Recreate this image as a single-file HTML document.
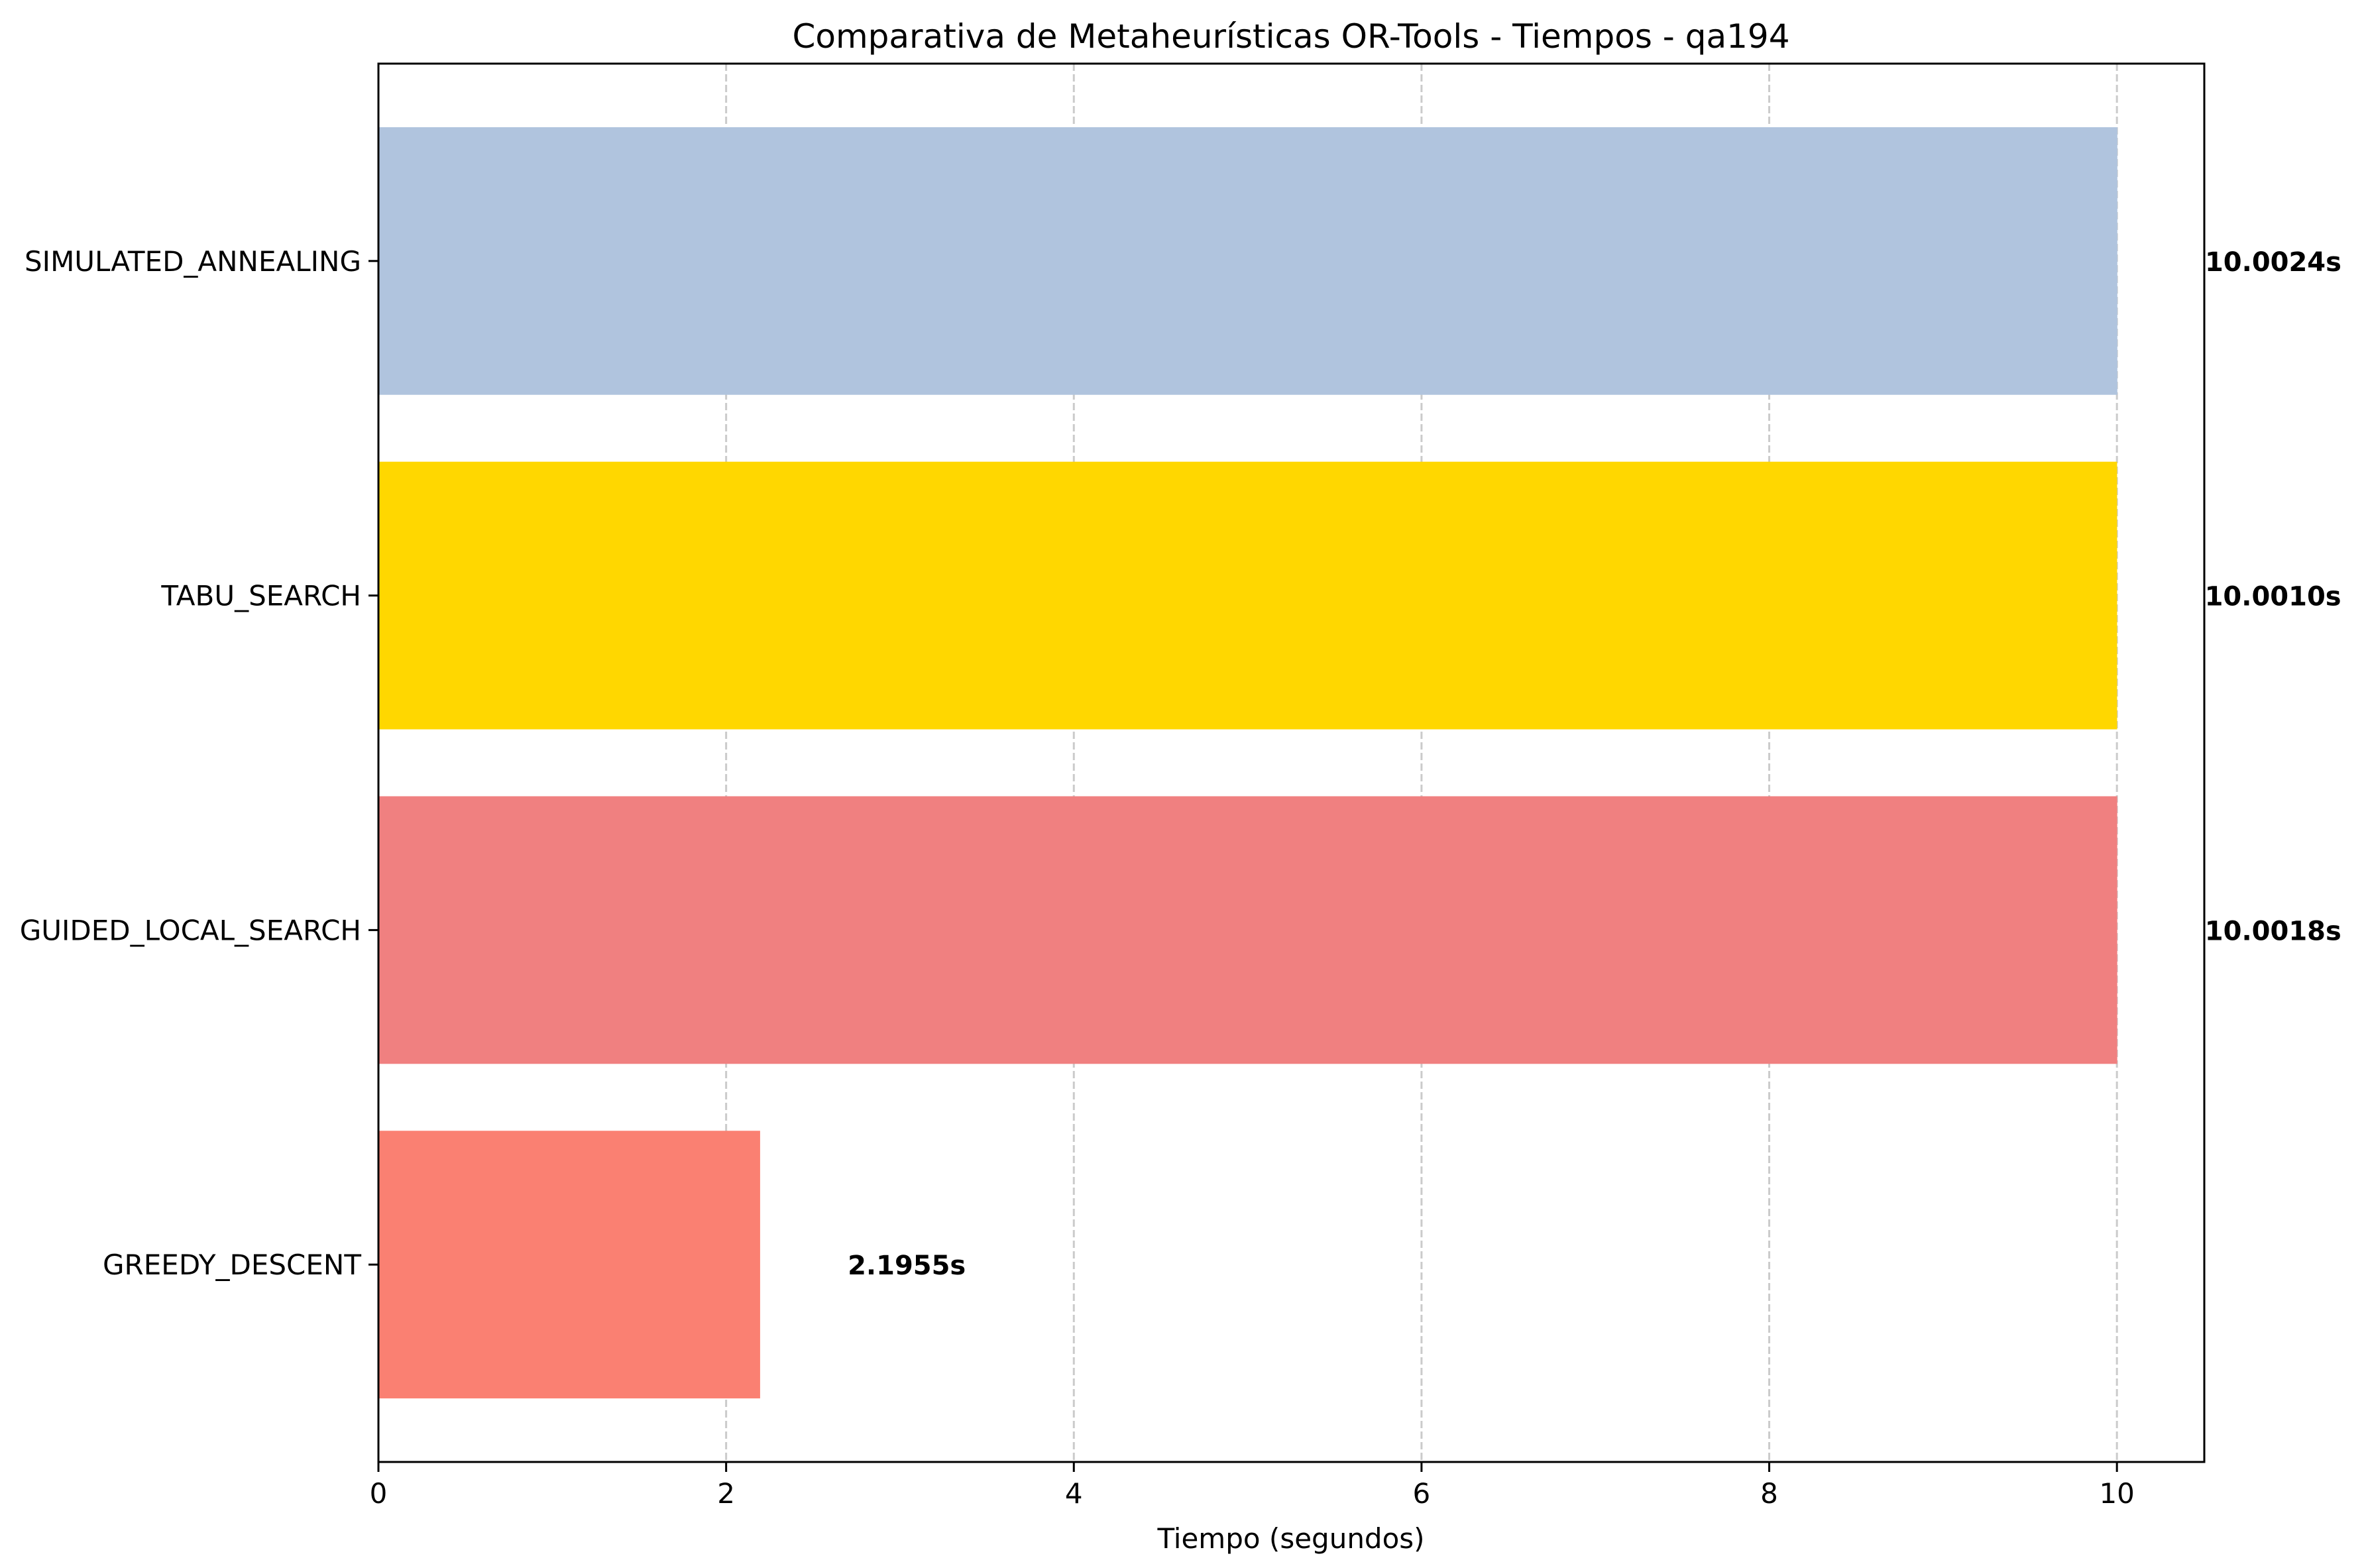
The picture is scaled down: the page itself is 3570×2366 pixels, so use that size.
<!DOCTYPE html>
<html><head><meta charset="utf-8"><style>html,body{margin:0;padding:0;background:#fff}svg{display:block}</style></head>
<body>
<svg id="chart" width="3570" height="2366" xmlns="http://www.w3.org/2000/svg" font-family="'DejaVu Sans','Liberation Sans',sans-serif">
<text x="1948" y="72" font-size="50" text-anchor="middle">Comparativa de Metaheurísticas OR-Tools - Tiempos - qa194</text>
<text x="1948" y="2336" font-size="42" text-anchor="middle">Tiempo (segundos)</text>
<g id="grid"></g><g id="bars"></g><g id="labels"></g><g id="axes"></g>
</svg>
<script>
const categories = ["GREEDY_DESCENT","GUIDED_LOCAL_SEARCH","TABU_SEARCH","SIMULATED_ANNEALING"];
const values = [2.1955, 10.0018, 10.0010, 10.0024];
const valueLabels = ["2.1955s","10.0018s","10.0010s","10.0024s"];
const colors = ["#fa8072","#f08080","#ffd700","#b0c4de"];
const xTicks = [0,2,4,6,8,10];

const L=571,R=3326,T=96,B=2206;
const xmax=Math.max(...values)*1.05;
const ymin=-0.59,ymax=categories.length-1+0.59;
const xs=v=>L+(v/xmax)*(R-L);
const ys=v=>B-(v-ymin)/(ymax-ymin)*(B-T);
const NS="http://www.w3.org/2000/svg";
function mk(tag,attrs,parent){const e=document.createElementNS(NS,tag);for(const k in attrs)e.setAttribute(k,attrs[k]);document.getElementById(parent).appendChild(e);return e;}

xTicks.forEach(t=>{
  const g=mk("line",{x1:xs(t),x2:xs(t),y1:T,y2:B,stroke:"#cbcbcb","stroke-width":3,"stroke-dasharray":"11,5"},"grid");
  
  
  const tk=mk("line",{x1:xs(t),x2:xs(t),y1:B,y2:B+15,stroke:"#000","stroke-width":3},"axes");
  
  
  const tl=mk("text",{x:xs(t),y:B+62,"font-size":42,"text-anchor":"middle"},"axes");
  tl.textContent=t;
  
  
});

categories.forEach((c,i)=>{
  const y0=ys(i+0.4),y1=ys(i-0.4);
  const b=mk("rect",{x:xs(0),y:y0,width:xs(values[i])-xs(0),height:y1-y0,fill:colors[i]},"bars");
  
  
  const lb=mk("text",{x:xs(values[i]+0.5)+1,y:ys(i)+15,"font-size":40,"font-weight":"bold"},"labels");
  lb.textContent=valueLabels[i];
  
  
  const tk=mk("line",{x1:L-15,x2:L,y1:ys(i),y2:ys(i),stroke:"#000","stroke-width":3},"axes");
  
  
  const tl=mk("text",{x:L-26,y:ys(i)+15,"font-size":42,"text-anchor":"end"},"axes");
  tl.textContent=c;
  
  
});

const fr=mk("rect",{x:L,y:T,width:R-L,height:B-T,fill:"none",stroke:"#000","stroke-width":3},"axes");


</script>
</body></html>
